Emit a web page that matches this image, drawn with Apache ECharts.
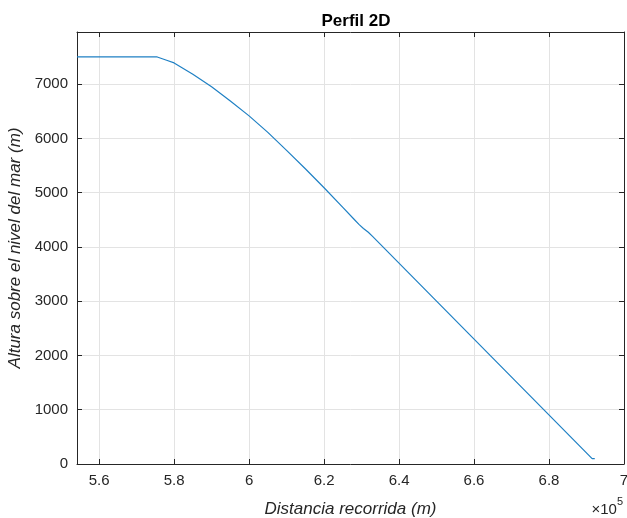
<!DOCTYPE html>
<html>
<head>
<meta charset="utf-8">
<script src="https://cdn.jsdelivr.net/npm/echarts@6/dist/echarts.min.js"></script>
<style>html,body{margin:0;padding:0;background:#fff}#c{width:627px;height:518px}</style>
</head>
<body>
<div id="c"></div>
<script>
// Distance travelled (m)
const distance = [554100, 575500, 578000, 580000, 585000, 590000, 595000, 600000, 605000, 610000, 615000, 620000, 625000, 628000, 629300, 630500, 631800, 633000, 691500, 692200];
// Altitude above sea level (m)
const altitude = [7500, 7500, 7440, 7390, 7180, 6950, 6690, 6415, 6110, 5780, 5440, 5090, 4730, 4510, 4415, 4340, 4270, 4190, 100, 100];
const xTicks = [560000, 580000, 600000, 620000, 640000, 660000, 680000, 700000];
const yTicks = [0, 1000, 2000, 3000, 4000, 5000, 6000, 7000];

const FONT = '"Liberation Sans", Arial, sans-serif';
const AX = '#262626';
const data = distance.map((d, i) => [d, altitude[i]]);

const xBase = {
  type: 'value', min: 554100, max: 700000,
  axisLine: { show: true, onZero: false, lineStyle: { color: AX, width: 1 } },
  axisTick: { show: true, inside: true, length: 5, customValues: xTicks, lineStyle: { color: AX } },
  splitLine: { show: false }
};
const yBase = {
  type: 'value', min: 0, max: 7960,
  axisLine: { show: true, onZero: false, lineStyle: { color: AX, width: 1 } },
  axisTick: { show: true, inside: true, length: 5, customValues: yTicks, lineStyle: { color: AX } },
  splitLine: { show: false }
};

const chart = echarts.init(document.getElementById('c'), null, { renderer: 'canvas' });
chart.setOption({
  animation: false,
  backgroundColor: '#fff',
  title: {
    text: 'Perfil 2D', left: 351, top: 8, textAlign: 'center',
    textStyle: { fontFamily: FONT, fontSize: 17, fontWeight: 'bold', color: '#000' }
  },
  grid: { left: 77, right: 3, top: 32, bottom: 54, containLabel: false, outerBoundsMode: 'none' },
  xAxis: [
    Object.assign({}, xBase, {
      position: 'bottom',
      name: 'Distancia recorrida (m)', nameLocation: 'middle', nameGap: 37,
      nameTextStyle: { fontFamily: FONT, fontSize: 17, fontStyle: 'italic', color: AX },
      axisLabel: { customValues: xTicks, margin: 9, fontFamily: FONT, fontSize: 15, color: AX,
        formatter: v => String(+(v / 1e5).toFixed(1)) },
      splitLine: { show: true, lineStyle: { color: '#e3e3e3', width: 1 } }
    }),
    Object.assign({}, xBase, { position: 'top', axisLabel: { show: false } })
  ],
  yAxis: [
    Object.assign({}, yBase, {
      position: 'left',
      name: 'Altura sobre el nivel del mar (m)', nameLocation: 'middle', nameGap: 53,
      nameTextStyle: { fontFamily: FONT, fontSize: 17, fontStyle: 'italic', color: AX },
      axisLabel: { customValues: yTicks, margin: 9, fontFamily: FONT, fontSize: 15, color: AX,
        formatter: v => String(v) },
      splitLine: { show: true, lineStyle: { color: '#e3e3e3', width: 1 } }
    }),
    Object.assign({}, yBase, { position: 'right', axisLabel: { show: false } })
  ],
  graphic: [{
    type: 'text', right: 4, top: 496,
    style: {
      text: '{a|×10}{b|5}',
      rich: {
        a: { fontFamily: FONT, fontSize: 15, fill: AX, padding: [6, 0, 0, 0] },
        b: { fontFamily: FONT, fontSize: 11, fill: AX, verticalAlign: 'top' }
      }
    }
  }],
  series: [{
    type: 'line', data: data, showSymbol: false, symbol: 'none',
    lineStyle: { color: '#1f80c4', width: 1.2 }, xAxisIndex: 0, yAxisIndex: 0
  }]
});
</script>
</body>
</html>
